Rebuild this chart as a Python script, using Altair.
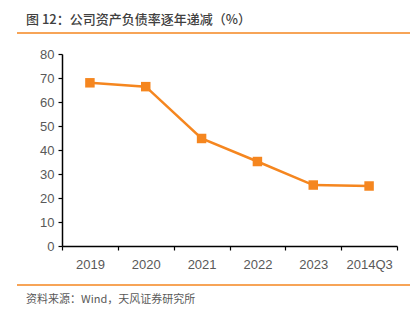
import altair as alt
import pandas as pd

years = ["2019", "2020", "2021", "2022", "2023", "2014Q3"]
ratio = [68.0, 66.4, 44.8, 35.2, 25.4, 25.0]
title_text = "图 12：公司资产负债率逐年递减（%）"
source_text = "资料来源：Wind，天风证券研究所"

ORANGE = "#F5861F"
CJK = "Noto Sans CJK SC"
LAT = "Liberation Sans"

df = pd.DataFrame({"year": years, "ratio": ratio})

W, H = 335, 192
PL, PT = 62, 54

base = alt.Chart(df)
x = alt.X("year:N", sort=years, title=None,
          scale=alt.Scale(type="band", paddingInner=0, paddingOuter=0),
          axis=alt.Axis(tickBand="extent", labelAngle=0, labelFont=LAT, labelFontSize=13,
                        labelColor="#595959", labelPadding=8, domainColor="#000000",
                        domainWidth=1.5, tickColor="#000000", tickWidth=1.2, tickSize=4,
                        grid=False))
y = alt.Y("ratio:Q", title=None,
          scale=alt.Scale(domain=[0, 80], nice=False),
          axis=alt.Axis(values=list(range(0, 81, 10)), labelFont=LAT, labelFontSize=13,
                        labelColor="#595959", labelPadding=4, domainColor="#000000",
                        domainWidth=1.5, tickColor="#000000", tickWidth=1.2, tickSize=4,
                        grid=False))

line = base.mark_line(color=ORANGE, strokeWidth=2.5).encode(x=x, y=y)
pts = base.mark_square(color=ORANGE, size=90, opacity=1).encode(x=x, y=y)

one = pd.DataFrame({"t": [0]})
title = alt.Chart(one).mark_text(font=CJK, fontSize=13, color="#404040", align="left",
                                 baseline="middle", fontWeight=500).encode(
    x=alt.value(26 - PL), y=alt.value(20 - PT), text=alt.value(title_text))
source = alt.Chart(one).mark_text(font=CJK, fontSize=11, color="#595959", align="left",
                                  baseline="middle").encode(
    x=alt.value(26 - PL), y=alt.value(300 - PT), text=alt.value(source_text))
rule_top = alt.Chart(one).mark_rule(color=ORANGE, strokeWidth=1.5).encode(
    x=alt.value(17 - PL), x2=alt.value(410 - PL), y=alt.value(33 - PT))
rule_bot = alt.Chart(one).mark_rule(color=ORANGE, strokeWidth=1.5).encode(
    x=alt.value(17 - PL), x2=alt.value(410 - PL), y=alt.value(285 - PT))

chart = alt.layer(line, pts, title, source, rule_top, rule_bot).properties(
    width=W, height=H,
    autosize=alt.AutoSizeParams(type="none"),
    padding={"left": PL, "top": PT, "right": 417 - PL - W, "bottom": 322 - PT - H},
    background="white",
).configure_view(stroke=None)

chart.save("out.html", embed_options={"renderer": "svg", "actions": False})
